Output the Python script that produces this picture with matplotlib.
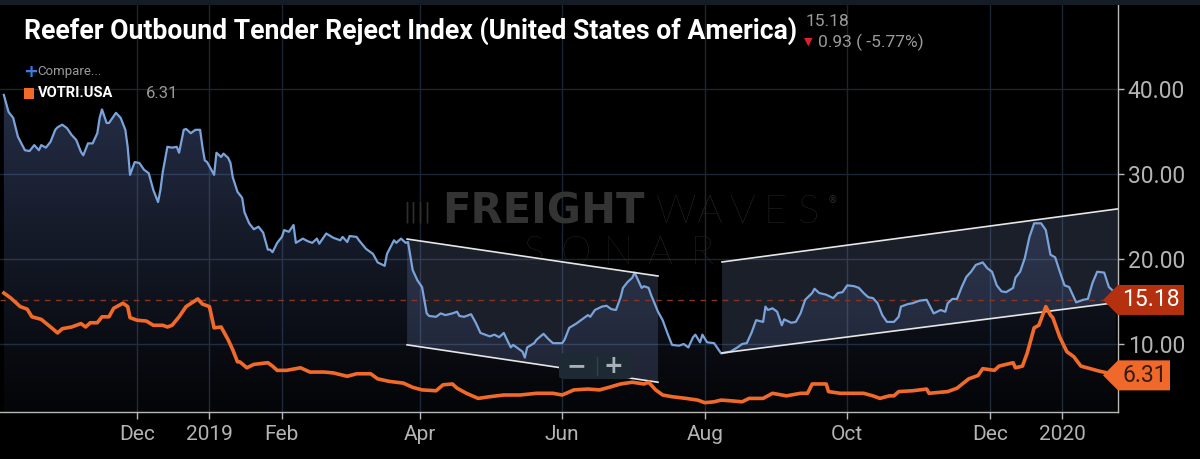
import numpy as np
import pandas as pd
import matplotlib
matplotlib.use("Agg")
import matplotlib.pyplot as plt
import matplotlib.dates as mdates
from matplotlib.patches import Polygon, Rectangle, FancyBboxPatch
from matplotlib.ticker import FuncFormatter, FixedLocator

# ---------------- data ----------------
START = "2018-10-01"
# Reefer OTRI (blue) : day offset from START, value
reefer_days = [4, 6, 8, 10, 13, 15, 17, 19, 20, 22, 24, 26, 27, 29, 31, 33, 35, 37, 38, 40,
               42, 44, 45, 46, 48, 49, 52, 54, 56, 57, 58, 60, 62, 64, 66, 68, 70, 71, 72, 74,
               76, 78, 79, 81, 82, 84, 86, 88, 89, 90, 91, 94, 95, 97, 98, 100, 101, 102, 104, 106,
               107, 109, 111, 113, 115, 117, 118, 119, 121, 123, 124, 126, 128, 129, 132, 134, 136, 138, 139, 142,
               145, 148, 149, 151, 152, 155, 156, 159, 162, 164, 167, 168, 171, 172, 174, 176, 177, 179, 181, 183,
               185, 186, 189, 191, 193, 196, 198, 199, 201, 204, 206, 208, 210, 212, 214, 216, 218, 219, 221, 222,
               224, 226, 227, 228, 231, 232, 235, 237, 239, 241, 243, 244, 246, 249, 251, 254, 255, 257, 260, 262,
               264, 266, 268, 269, 271, 273, 274, 275, 277, 278, 280, 281, 284, 286, 288, 290, 293, 295, 297, 299,
               300, 302, 303, 305, 308, 311, 315, 318, 320, 322, 324, 326, 329, 330, 331, 333, 335, 337, 338, 341,
               343, 345, 347, 350, 351, 353, 356, 359, 361, 363, 365, 368, 370, 372, 374, 376, 378, 380, 382, 385,
               387, 388, 391, 393, 396, 399, 402, 405, 407, 408, 410, 412, 414, 416, 418, 420, 423, 425, 427, 429,
               431, 433, 436, 437, 439, 441, 443, 445, 448, 450, 452, 454, 456, 458, 460, 463, 466, 468, 470, 472,
               475, 477, 479, 480]
reefer_vals = [39.3, 37.3, 36.6, 34.4, 32.8, 32.7, 33.4, 32.8, 33.4, 33.1, 33.8, 35.2, 35.5, 35.8, 35.4, 34.6, 34.0, 32.6, 32.2, 33.6,
               33.6, 34.8, 36.6, 37.6, 36.0, 36.0, 37.2, 36.6, 35.2, 33.2, 29.9, 31.4, 31.3, 30.5, 30.1, 28.1, 26.7, 28.1, 30.2, 33.2,
               33.1, 33.2, 32.5, 35.2, 35.3, 34.8, 35.2, 35.2, 33.2, 31.6, 31.4, 29.9, 32.5, 32.0, 32.4, 31.9, 31.3, 29.6, 27.9, 27.2,
               25.5, 24.2, 23.5, 23.8, 23.1, 21.1, 21.1, 20.8, 21.9, 22.6, 23.4, 23.2, 24.0, 21.9, 22.4, 22.1, 21.9, 22.4, 21.8, 23.0,
               22.5, 22.2, 22.6, 22.0, 22.7, 22.6, 22.2, 21.2, 20.6, 19.6, 19.2, 20.6, 22.2, 21.9, 22.4, 21.9, 22.0, 18.7, 17.5, 16.7,
               13.6, 13.3, 13.2, 13.6, 13.4, 13.6, 13.8, 13.3, 13.2, 13.5, 12.5, 11.3, 11.1, 10.9, 11.1, 10.8, 11.3, 10.7, 9.6, 9.9,
               9.5, 9.1, 8.4, 9.6, 10.1, 10.5, 11.2, 10.6, 10.1, 10.1, 10.1, 10.5, 11.9, 12.4, 12.8, 13.4, 13.2, 14.0, 14.4, 14.5,
               14.1, 14.0, 15.5, 16.6, 17.3, 17.8, 18.4, 17.8, 16.6, 16.8, 16.6, 15.8, 13.8, 12.8, 11.3, 9.9, 9.8, 10.0, 9.6, 10.8,
               11.1, 10.2, 11.1, 10.2, 10.1, 8.9, 9.1, 9.6, 10.0, 10.1, 11.3, 12.8, 12.6, 14.4, 14.0, 14.2, 13.8, 12.2, 12.9, 12.5,
               12.6, 13.6, 15.2, 16.0, 16.5, 16.0, 15.8, 15.4, 16.0, 16.1, 16.9, 16.8, 16.6, 16.0, 15.5, 15.4, 14.8, 13.4, 12.6, 12.6,
               13.2, 14.4, 14.7, 14.8, 15.1, 15.2, 13.6, 14.0, 13.8, 14.8, 15.3, 15.3, 16.7, 17.9, 18.5, 19.3, 19.6, 18.9, 18.5, 16.9,
               16.2, 16.1, 16.6, 17.8, 18.5, 20.1, 22.6, 24.2, 24.2, 23.4, 20.5, 20.2, 18.5, 16.9, 16.7, 14.9, 15.2, 15.3, 17.2, 18.5,
               18.4, 16.7, 16.2, 15.18]

# VOTRI.USA (orange)
votri_days = [4, 7, 11, 14, 16, 20, 24, 27, 29, 33, 37, 39, 41, 44, 46, 49, 51, 55, 57, 58,
              61, 65, 68, 72, 74, 76, 79, 82, 87, 89, 92, 94, 97, 100, 102, 104, 105, 108, 111, 117,
              119, 121, 125, 131, 135, 141, 145, 151, 155, 161, 164, 169, 175, 179, 183, 189, 192, 196, 198, 202,
              207, 212, 218, 225, 232, 239, 243, 248, 254, 259, 263, 268, 273, 278, 280, 283, 286, 290, 296, 301,
              304, 308, 311, 316, 320, 323, 329, 333, 339, 345, 348, 350, 356, 357, 362, 368, 372, 376, 379, 383,
              385, 387, 393, 399, 400, 408, 412, 417, 421, 423, 428, 430, 436, 437, 440, 442, 445, 447, 450, 452,
              453, 456, 459, 462, 465, 469, 473, 478, 480]
votri_vals = [16.0, 15.4, 14.4, 14.1, 13.2, 12.9, 12.0, 11.3, 11.8, 12.0, 12.4, 12.0, 12.5, 12.5, 13.2, 13.2, 14.2, 14.8, 14.4, 13.1,
              12.8, 12.7, 12.2, 12.2, 12.0, 12.2, 13.2, 14.4, 15.3, 14.7, 14.4, 11.9, 12.0, 10.5, 9.3, 7.9, 7.9, 7.2, 7.6, 7.8,
              7.4, 6.9, 6.9, 7.2, 6.7, 6.7, 6.6, 6.2, 6.5, 6.5, 5.9, 5.6, 5.4, 4.9, 4.6, 4.5, 5.2, 5.3, 4.8, 4.2,
              3.6, 3.8, 4.0, 4.0, 4.2, 4.2, 4.0, 4.6, 4.7, 4.6, 4.9, 5.3, 5.5, 5.3, 5.5, 4.6, 4.0, 3.8, 3.6, 3.4,
              3.1, 3.2, 3.4, 3.3, 3.2, 3.6, 3.6, 4.2, 3.9, 4.2, 4.2, 5.3, 5.3, 4.4, 4.2, 4.2, 4.2, 3.9, 3.6, 3.9,
              3.9, 4.4, 4.5, 4.7, 4.2, 4.4, 4.8, 5.9, 6.3, 7.1, 6.9, 7.4, 7.8, 7.2, 7.4, 8.9, 11.9, 12.2, 14.4, 13.4,
              13.1, 10.8, 9.1, 8.5, 7.4, 7.1, 6.8, 6.5, 6.31]

# trend channels drawn on the chart (day offset, upper value, lower value)
chan1_days = [176.6, 284.0]
chan1_top = [22.35, 18.0]
chan1_bot = [9.9, 5.5]
chan2_days = [311.4, 480.9]
chan2_top = [19.65, 25.9]
chan2_bot = [8.94, 14.9]

title_text = "Reefer Outbound Tender Reject Index (United States of America)"
last_reefer = 15.18
change_text = "0.93 ( -5.77%)"
last_votri = 6.31
series2_name = "VOTRI.USA"
y_ticks = [10, 20, 30, 40]
x_view_days = [2.35, 480.9]
y_view = [2.0, 50.47]

# ---------------- helpers ----------------
t0 = pd.Timestamp(START)
def to_num(days):
    return mdates.date2num(t0 + pd.to_timedelta(np.asarray(days, dtype=float), unit="D"))

xr = to_num(reefer_days)
xv = to_num(votri_days)
yr = np.array(reefer_vals)
yv = np.array(votri_vals)

W, H = 1200, 459
fig = plt.figure(figsize=(W / 100, H / 100), dpi=100, facecolor="black")

def fx(px):
    return px / W
def fy(py):
    return 1 - py / H

ax = fig.add_axes([0, fy(412), fx(1118), 1 - fy(412)])
ax.set_facecolor("black")
ax.set_xlim(to_num(x_view_days))
ax.set_ylim(y_view)

# grid
ax.set_axisbelow(True)
ax.grid(True, color="#1a2533", lw=1.0)

# gradient fill under blue line
poly = ax.fill_between(xr, yr, y_view[0], facecolor="none", edgecolor="none")
grad = np.linspace(1, 0, 256).reshape(-1, 1)
rgba = np.zeros((256, 1, 4))
rgba[..., 0] = 0.42
rgba[..., 1] = 0.52
rgba[..., 2] = 0.80
rgba[..., 3] = 0.04 + 0.32 * grad ** 1.1
xlim = ax.get_xlim()
im = ax.imshow(rgba, extent=[xlim[0], xlim[1], y_view[0], 40], aspect="auto",
               origin="upper", zorder=1, interpolation="bilinear")
im.set_clip_path(poly.get_paths()[0], transform=ax.transData)
ax.set_xlim(xlim)
ax.set_ylim(y_view)

# channels
for cd, ct, cb in [(chan1_days, chan1_top, chan1_bot), (chan2_days, chan2_top, chan2_bot)]:
    cx = to_num(cd)
    verts = [(cx[0], ct[0]), (cx[1], ct[1]), (cx[1], cb[1]), (cx[0], cb[0])]
    ax.add_patch(Polygon(verts, closed=True, facecolor=(0.62, 0.72, 1.0, 0.17),
                         edgecolor="none", zorder=2))
    ax.plot(cx, ct, color="#e6e6e6", lw=1.2, zorder=5)
    ax.plot(cx, cb, color="#e6e6e6", lw=1.2, zorder=5)

# dashed last value line
ax.axhline(last_reefer, color="#8a3420", lw=1.0, ls=(0, (4, 4)), zorder=3)

# series
ax.plot(xr, yr, color="#7aa3da", lw=1.6, zorder=4)
ax.plot(xv, yv, color="#f26a2a", lw=2.6, zorder=6, solid_joinstyle="round")

# axes styling
for s in ["top", "left"]:
    ax.spines[s].set_visible(False)
for s in ["right", "bottom"]:
    ax.spines[s].set_color("#b8b8b8")
    ax.spines[s].set_linewidth(1.0)
ax.yaxis.tick_right()
ax.set_yticks(y_ticks)
ax.yaxis.set_major_formatter(FuncFormatter(lambda v, p: f"{v:.2f}"))
ax.tick_params(axis="y", which="both", direction="out", length=4, width=1,
               colors="#b8b8b8", labelcolor="#b4b4b4", labelsize=16.5, pad=3)

tick_dates = pd.date_range("2018-10-01", "2020-01-01", freq="MS")
tick_dates = [d for d in tick_dates if d.month in (1, 2, 4, 6, 8, 10, 12)]
ax.xaxis.set_major_locator(FixedLocator(mdates.date2num(tick_dates)))
def xfmt(v, p):
    d = mdates.num2date(v)
    return str(d.year) if d.month == 1 else d.strftime("%b")
ax.xaxis.set_major_formatter(FuncFormatter(xfmt))
ax.tick_params(axis="x", direction="out", length=5, width=1, colors="#b8b8b8",
               labelcolor="#b4b4b4", labelsize=15, pad=4)
for lab in ax.get_xticklabels() + ax.get_yticklabels():
    lab.set_fontfamily("Roboto")

# top band
fig.patches.append(Rectangle((0, fy(5)), 1, 1 - fy(5), transform=fig.transFigure,
                             facecolor="#141c26", edgecolor="none", zorder=0))

# watermark
ax.text(fx(403), fy(212), "||||", transform=fig.transFigure, color="#2e2e2e",
        fontsize=15, va="center", ha="left", family="DejaVu Sans", zorder=2.5)
ax.text(fx(442), fy(212), "FREIGHT", transform=fig.transFigure, color="#333333",
        fontsize=30, fontweight="heavy", va="center", ha="left", family="DejaVu Sans", zorder=2.5)
for i, ch in enumerate("WAVES"):
    ax.text(fx(676 + i * 33), fy(212), ch, transform=fig.transFigure, color="#2f2f2f",
            fontsize=29, fontweight="light", va="center", ha="center", family="Lato", zorder=2.5)
ax.text(fx(828), fy(200), "®", transform=fig.transFigure, color="#2f2f2f",
        fontsize=7, va="center", ha="left", family="DejaVu Sans", zorder=2.5)
for i, ch in enumerate("SONAR"):
    ax.text(fx(534 + i * 42), fy(253), ch, transform=fig.transFigure, color="#2c2c2c",
            fontsize=28, fontweight="light", va="center", ha="center", family="Lato", zorder=2.5)

# zoom widget
fig.patches.append(FancyBboxPatch((fx(559), fy(379)), fx(73), fy(353) - fy(379),
                                  boxstyle="round,pad=0,rounding_size=0.006",
                                  transform=fig.transFigure, facecolor="#1d2a33",
                                  edgecolor="none", zorder=7))
fig.text(fx(576), fy(366), "\u2212", color="#a8b0b8", fontsize=17, fontweight="bold",
         ha="center", va="center", family="DejaVu Sans", zorder=8)
fig.text(fx(613), fy(366), "+", color="#a8b0b8", fontsize=17, fontweight="bold",
         ha="center", va="center", family="DejaVu Sans", zorder=8)
fig.lines.append(plt.Line2D([fx(597), fx(597)], [fy(357), fy(375)], transform=fig.transFigure,
                            color="#34424c", lw=1, zorder=8))

# last-value tags
def tag(value, face, txtcolor, width):
    fig.canvas.draw()
    ypix = ax.transData.transform((xlim[0], value))[1]
    x_tip = fx(1103)
    x0 = fx(1118)
    x1 = fx(1118 + width)
    h = 15 / H
    yc = ypix / H
    verts = [(x_tip, yc), (x0, yc + h), (x1, yc + h), (x1, yc - h), (x0, yc - h)]
    fig.patches.append(Polygon(verts, closed=True, transform=fig.transFigure,
                               facecolor=face, edgecolor="none", zorder=9))
    fig.text(fx(1122), yc, f"{value:.2f}", color=txtcolor, fontsize=16.5, ha="left",
             va="center", family="Roboto", zorder=10)

tag(last_reefer, "#b5300f", "white", 66)
tag(last_votri, "#f0692b", "#3a1c0e", 52)

# title and header texts
fig.text(fx(24), fy(31), title_text, color="white", fontsize=19.2, fontweight="bold",
         ha="left", va="center", family="Roboto")
fig.text(fx(806), fy(22), f"{last_reefer:.2f}", color="#9a9a9a", fontsize=12.5,
         ha="left", va="center", family="Roboto")
fig.text(fx(804), fy(42), "\u25BC", color="#e0202a", fontsize=8,
         ha="left", va="center", family="DejaVu Sans")
fig.text(fx(818), fy(42), change_text, color="#9a9a9a", fontsize=12.5,
         ha="left", va="center", family="Roboto")

# legend
fig.text(fx(23), fy(72), "+", color="#3a7ce0", fontsize=13, fontweight="bold",
         ha="left", va="center", family="DejaVu Sans")
fig.text(fx(37), fy(72), "Compare...", color="#9a9a9a", fontsize=9.5,
         ha="left", va="center", family="Roboto")
fig.patches.append(Rectangle((fx(24), fy(99)), fx(10), fy(88) - fy(99), transform=fig.transFigure,
                             facecolor="#f26a2a", edgecolor="none"))
fig.text(fx(38), fy(93), series2_name, color="white", fontsize=10.5, fontweight="bold",
         ha="left", va="center", family="Roboto")
fig.text(fx(146), fy(93), f"{last_votri:.2f}", color="#9a9a9a", fontsize=12,
         ha="left", va="center", family="Roboto")

fig.savefig("out.png", dpi=100, facecolor="black")
